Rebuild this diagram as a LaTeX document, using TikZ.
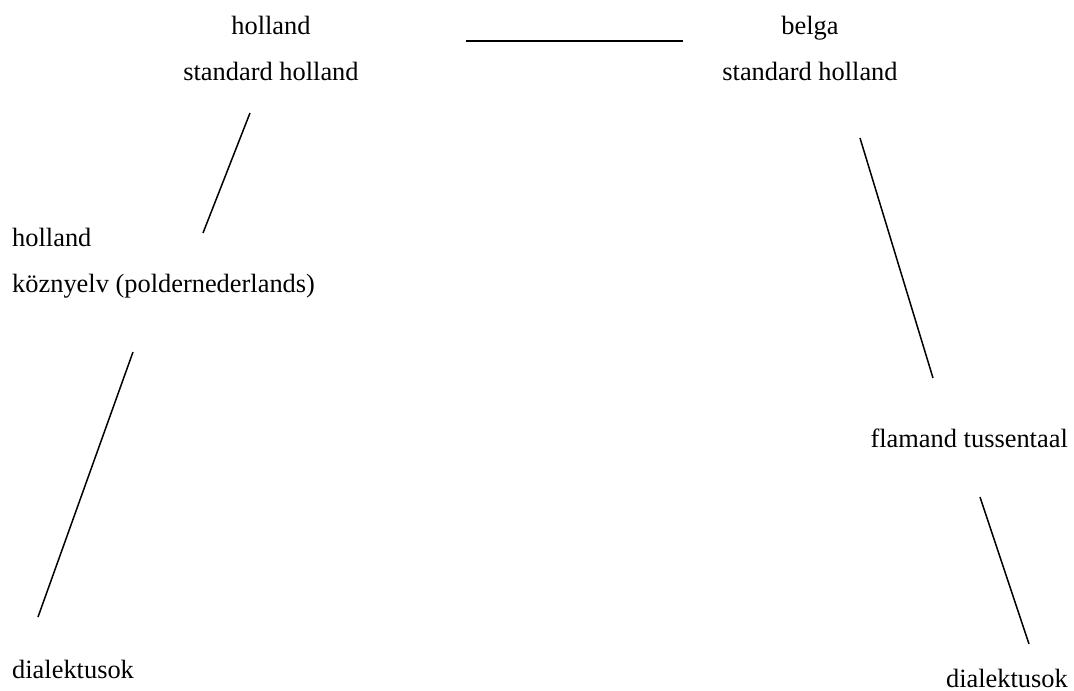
\documentclass[tikz,border=0pt]{standalone}
\usepackage{fontspec}
\setmainfont{Liberation Serif}
\begin{document}
\begin{tikzpicture}[x=1pt,y=-1pt,
  lbl/.style={inner sep=0pt,font=\fontsize{26.4}{30}\selectfont},
  conn/.style={line width=1.5pt},
  bar/.style={line width=2.2pt}]
\useasboundingbox (0,0) rectangle (1074,691);
% top left
\node[lbl,anchor=base] (hl) at (271,34) {holland};
\node[lbl,anchor=base] (shl) at (271,80) {standard holland};
% top right
\node[lbl,anchor=base] (bel) at (810,34) {belga};
\node[lbl,anchor=base] (shr) at (810,80) {standard holland};
% left middle
\node[lbl,anchor=base west] (hk) at (12,246) {holland};
\node[lbl,anchor=base west] (kz) at (12,292) {köznyelv (poldernederlands)};
% left bottom
\node[lbl,anchor=base west] (dl) at (12,678) {dialektusok};
% right middle
\node[lbl,anchor=base east] (ft) at (1068,447) {flamand tussentaal};
% right bottom
\node[lbl,anchor=base east] (dr) at (1068,687) {dialektusok};
% connector end points
\coordinate (b1) at (466,41);
\coordinate (b2) at (683,41);
\coordinate (l1a) at (250,113);
\coordinate (l1b) at (203,233);
\coordinate (l2a) at (133,352);
\coordinate (l2b) at (38,617);
\coordinate (r1a) at (860,138);
\coordinate (r1b) at (933,378);
\coordinate (r2a) at (980,497);
\coordinate (r2b) at (1029,644);
\draw[bar] (b1) -- (b2);
\draw[conn] (l1a) -- (l1b);
\draw[conn] (l2a) -- (l2b);
\draw[conn] (r1a) -- (r1b);
\draw[conn] (r2a) -- (r2b);
\end{tikzpicture}
\end{document}
